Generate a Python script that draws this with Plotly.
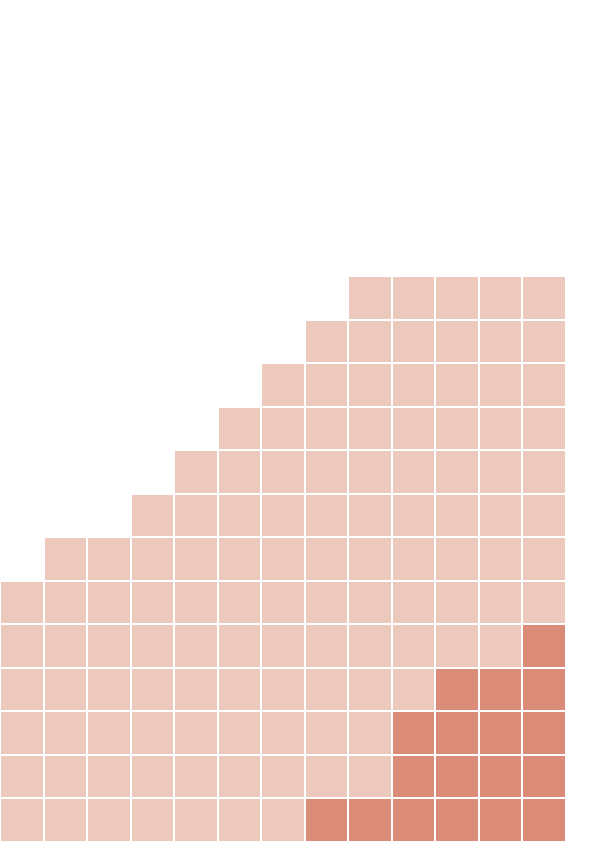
import plotly.graph_objects as go

# Data: per column, total filled cells (from bottom) and highlighted cells (from bottom)
columns = list(range(13))
column_heights = [6, 7, 7, 8, 9, 10, 11, 12, 13, 13, 13, 13, 13]
highlight_counts = [0, 0, 0, 0, 0, 0, 0, 1, 1, 3, 4, 4, 5]
n_rows = 13
rows = list(range(n_rows))

LIGHT = "#edc8bd"
DARK = "#da8c79"

z = []
for r in rows:
    row_vals = []
    for c in columns:
        if r < highlight_counts[c]:
            row_vals.append(2)
        elif r < column_heights[c]:
            row_vals.append(1)
        else:
            row_vals.append(None)
    z.append(row_vals)

fig = go.Figure(
    go.Heatmap(
        x=columns,
        y=rows,
        z=z,
        zmin=1,
        zmax=2,
        colorscale=[[0, LIGHT], [0.5, LIGHT], [0.5, DARK], [1, DARK]],
        showscale=False,
        xgap=2,
        ygap=2,
        hoverinfo="skip",
    )
)

fig.update_layout(
    width=596,
    height=842,
    margin=dict(l=0, r=30, t=276, b=0),
    paper_bgcolor="white",
    plot_bgcolor="white",
    xaxis=dict(visible=False, range=[-0.5, 12.5], fixedrange=True),
    yaxis=dict(visible=False, range=[-0.5, 12.5], fixedrange=True),
    showlegend=False,
)

fig.write_html(
    "out.html",
    config={"displayModeBar": False, "staticPlot": True},
    post_script="document.body.style.margin='0';document.body.style.padding='0';",
)
